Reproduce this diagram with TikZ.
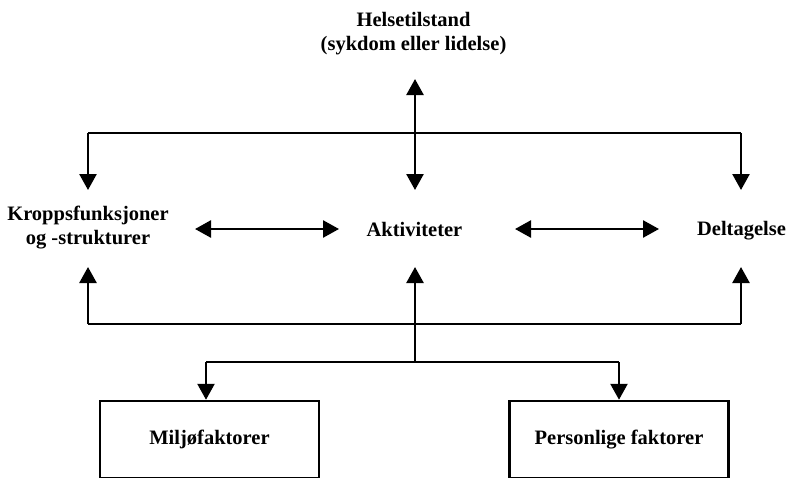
\documentclass[tikz,border=0pt]{standalone}
\usepackage{fontspec}
\setmainfont{Liberation Serif}
\usetikzlibrary{arrows.meta,calc}
\tikzset{
  lbl/.style={inner sep=0pt, font=\bfseries\fontsize{20.5}{24}\selectfont, align=center},
  conn/.style={line width=2.5pt, line cap=butt, line join=miter},
  tri/.style={conn, -{Triangle[length=16pt,width=17pt]}},
  dtri/.style={conn, {Triangle[length=16pt,width=17pt]}-{Triangle[length=16pt,width=17pt]}},
  fbox/.style={draw, line width=2.5pt, minimum width=219pt, minimum height=77pt, inner sep=0pt, font=\bfseries\fontsize{20.5}{24}\selectfont}
}
\begin{document}
\begin{tikzpicture}[x=1pt,y=-1pt]
\useasboundingbox (0,0) rectangle (794,477);
% text nodes
\node[lbl] (helse) at (413.5,34) {Helsetilstand\\(sykdom eller lidelse)};
\node[lbl] (kropp) at (88,228) {Kroppsfunksjoner\\og -strukturer};
\node[lbl, anchor=base] (aktiv) at (414.5,236) {Aktiviteter};
\node[lbl, anchor=base] (delt) at (741.5,235) {Deltagelse};
\node[fbox] (milj) at (209.5,439.5) {Miljøfaktorer};
\node[fbox] (pers) at (619,439.5) {Personlige faktorer};
% junctions
\coordinate (jt) at (415,133);
\coordinate (jb) at (415,324);
\coordinate (jm) at (415,362);
\coordinate (tl) at (88,133);
\coordinate (tr) at (741,133);
\coordinate (bl) at (88,324);
\coordinate (br) at (741,324);
\coordinate (ml) at (206,362);
\coordinate (mr) at (619,362);
% top
\draw[dtri] (415,79) -- (415,190);
\draw[conn] (tl) -- (tr);
\draw[tri] (tl) -- (88,190);
\draw[tri] (tr) -- (741,190);
% middle double arrows
\draw[dtri] (195,229) -- (339,229);
\draw[dtri] (515,229) -- (659,229);
% bottom
\draw[conn] (bl) -- (br);
\draw[tri] (bl) -- (88,267);
\draw[tri] (br) -- (741,267);
\draw[tri] (jm) -- (415,267);
\draw[conn] (ml) -- (mr);
\draw[tri] (ml) -- (ml |- milj.north);
\draw[tri] (mr) -- (mr |- pers.north);
\end{tikzpicture}
\end{document}
